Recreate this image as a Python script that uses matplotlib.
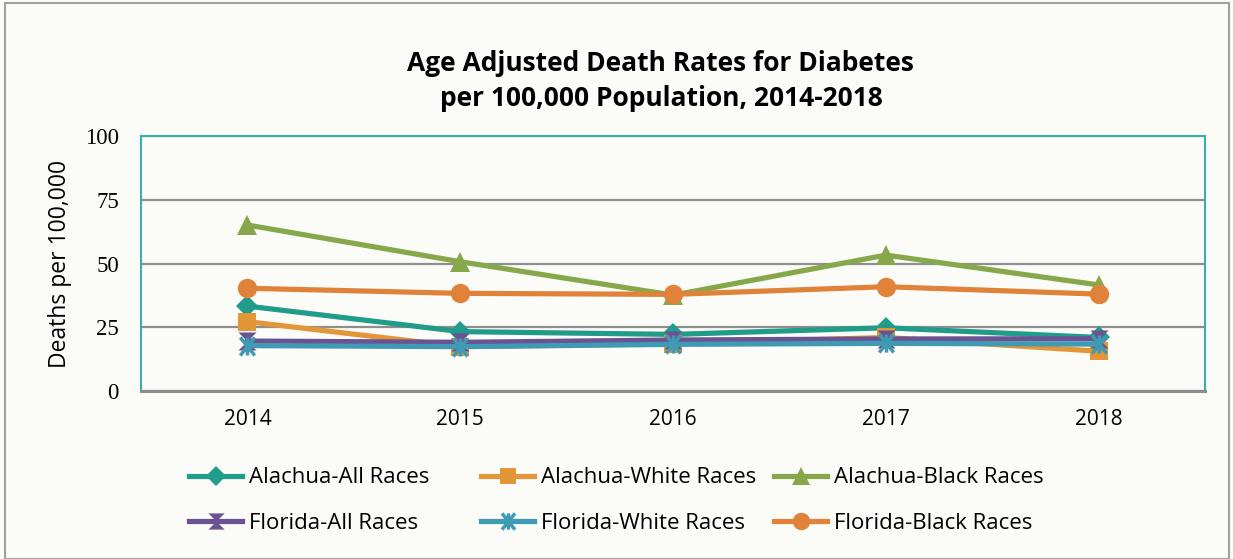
import matplotlib.pyplot as plt
import numpy as np
from matplotlib.path import Path
from matplotlib.patches import Rectangle

years = ['2014', '2015', '2016', '2017', '2018']
alachua_all = [33.3, 23.3, 22.2, 24.8, 21.0]
alachua_white = [27.2, 17.4, 18.5, 21.0, 15.6]
alachua_black = [65.1, 50.7, 37.6, 53.3, 41.6]
florida_all = [19.6, 19.1, 20.0, 20.4, 20.5]
florida_white = [17.8, 17.4, 18.3, 18.7, 18.4]
florida_black = [40.3, 38.3, 37.9, 40.9, 38.0]

# vertical bow-tie marker and asterisk marker (Excel style)
bowtie = Path([(-1, 1), (1, 1), (0, 0), (1, -1), (-1, -1), (0, 0), (-1, 1)],
              [Path.MOVETO, Path.LINETO, Path.LINETO, Path.LINETO,
               Path.LINETO, Path.LINETO, Path.CLOSEPOLY])
aster = Path([(-0.8, -1), (0.8, 1), (-0.8, 1), (0.8, -1), (0, -1), (0, 1)],
             [Path.MOVETO, Path.LINETO, Path.MOVETO, Path.LINETO, Path.MOVETO, Path.LINETO])

series = [
    ('Alachua-All Races', alachua_all, '#229C8A', 'D', 11),
    ('Alachua-White Races', alachua_white, '#E39638', 's', 13),
    ('Alachua-Black Races', alachua_black, '#87A84A', '^', 15),
    ('Florida-All Races', florida_all, '#6B5293', bowtie, 13),
    ('Florida-White Races', florida_white, '#3F9AB3', aster, 13),
    ('Florida-Black Races', florida_black, '#E0823A', 'o', 14),
]

bg = '#FBFBF7'
fig = plt.figure(figsize=(12.33, 5.59), dpi=100, facecolor=bg)
ax = fig.add_axes([0.1144, 0.3005, 0.863, 0.4562], facecolor=bg)

x = np.arange(len(years))
zorders = [4, 5, 3, 6, 7, 8]
handles = []
for (label, vals, color, marker, ms), z in zip(series, zorders):
    if marker is aster:
        h, = ax.plot(x, vals, color=color, lw=3.75, marker=marker, ms=ms,
                     markeredgewidth=2.5, markeredgecolor=color, label=label, zorder=z)
    else:
        h, = ax.plot(x, vals, color=color, lw=3.75, marker=marker, ms=ms,
                     markeredgewidth=0, label=label, zorder=z)
    handles.append(h)

ax.set_xlim(-0.5, 4.5)
ax.set_ylim(0, 100)
ax.set_yticks([0, 25, 50, 75, 100])
ax.set_xticks(x)
ax.set_xticklabels(years, family='Open Sans', fontsize=15)
for t in ax.get_yticklabels():
    t.set_family('Liberation Serif')
    t.set_fontsize(16.5)
ax.tick_params(length=0)
ax.tick_params(axis='y', pad=16)
ax.tick_params(axis='x', pad=13)
ax.grid(axis='y', color='#8E8E8E', lw=1.6)
ax.set_axisbelow(True)
for s in ['top', 'right', 'left']:
    ax.spines[s].set_color('#3AAFA9')
    ax.spines[s].set_linewidth(1.5)
ax.spines['bottom'].set_color('#8C8C8C')
ax.spines['bottom'].set_linewidth(2.2)

ax.set_ylabel('Deaths per 100,000', family='Open Sans', fontsize=16.5, labelpad=9)

fig.text(0.536, 0.855, 'Age Adjusted Death Rates for Diabetes\nper 100,000 Population, 2014-2018',
         ha='center', va='center', fontsize=19, fontweight='bold', family='Open Sans',
         linespacing=1.35)

# three legend columns at fixed, evenly spaced positions (as in Excel)
col_x = [189 / 1233, 481 / 1233, 774 / 1233]
for c in range(3):
    hs = [handles[c], handles[c + 3]]
    leg = fig.legend(hs, [h.get_label() for h in hs], loc='center left',
                     bbox_to_anchor=(col_x[c], 0.1046), frameon=False,
                     prop={'family': 'Open Sans', 'size': 16}, handlelength=2.4,
                     labelspacing=1.1, handletextpad=0.3, borderpad=0,
                     borderaxespad=0, markerscale=0.9)

fig.patches.append(Rectangle((0.004, 0.0), 0.993, 0.995, transform=fig.transFigure,
                             fill=False, edgecolor='#A0A0A0', lw=1.5))

fig.savefig('out.png', dpi=100, facecolor=bg)
